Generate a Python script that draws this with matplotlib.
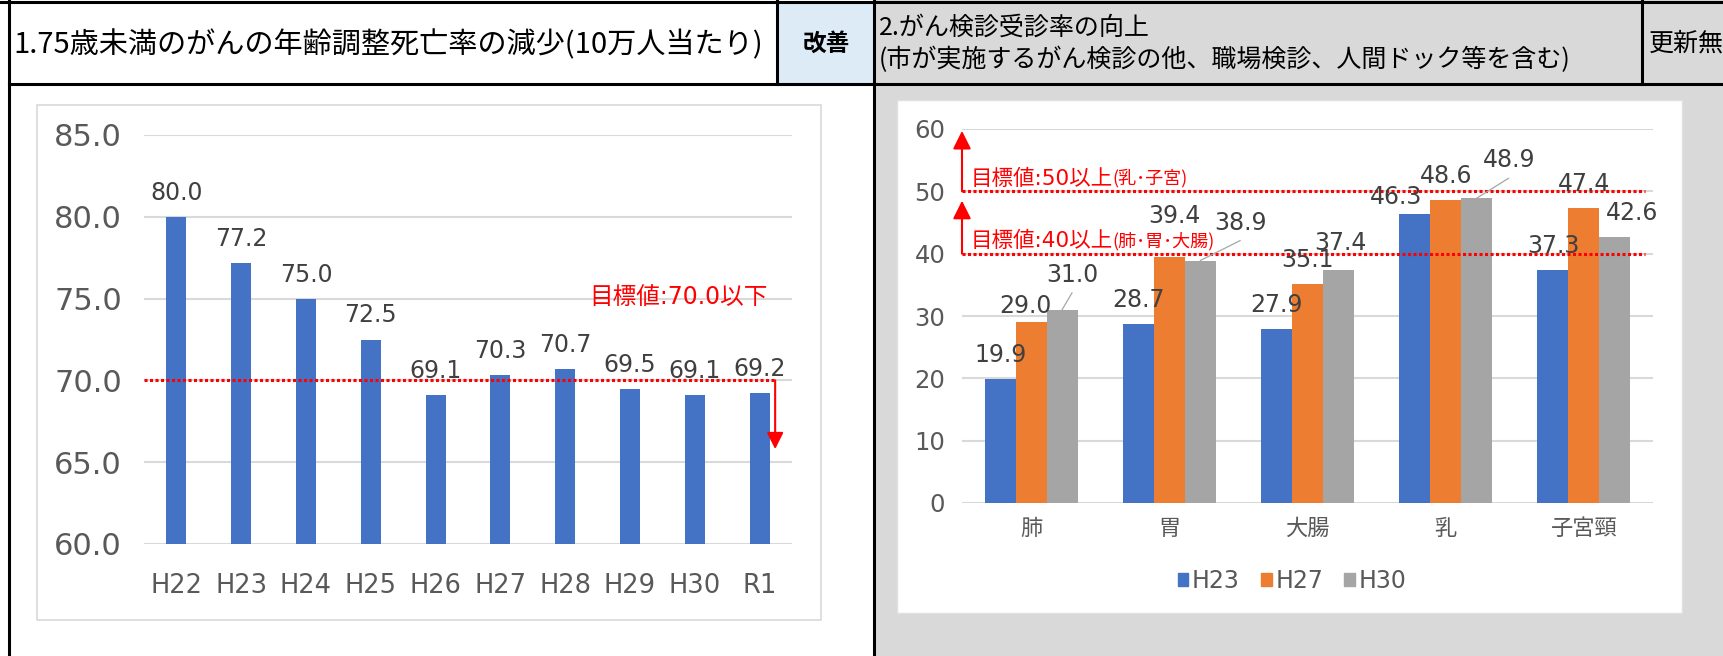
import matplotlib
matplotlib.use("Agg")
import matplotlib.pyplot as plt
from matplotlib.patches import Rectangle, Patch
import numpy as np

# Latin glyphs from DejaVu (Verdana-like, close to Meiryo), kanji from Noto CJK
plt.rcParams['font.family'] = ['DejaVu Sans', 'Noto Sans CJK JP']
JP = ['Noto Sans CJK JP', 'DejaVu Sans']

# --- data: 75歳未満のがんの年齢調整死亡率 ---
years = ["H22", "H23", "H24", "H25", "H26", "H27", "H28", "H29", "H30", "R1"]
death_rate = [80.0, 77.2, 75.0, 72.5, 69.1, 70.3, 70.7, 69.5, 69.1, 69.2]
death_target = 70.0

# --- data: がん検診受診率 ---
sites = ["肺", "胃", "大腸", "乳", "子宮頸"]
series_names = ["H23", "H27", "H30"]
rate_h23 = [19.9, 28.7, 27.9, 46.3, 37.3]
rate_h27 = [29.0, 39.4, 35.1, 48.6, 47.4]
rate_h30 = [31.0, 38.9, 37.4, 48.9, 42.6]
screen_targets = [50, 40]
target_labels = ["目標値:50以上", "目標値:40以上"]
target_notes = ["(乳･子宮)", "(肺･胃･大腸)"]

RED = "#FF0000"
TXT = "#595959"
LBL = "#404040"
colors = ["#4472C4", "#ED7D31", "#A5A5A5"]

W, H = 1724, 656
fig = plt.figure(figsize=(W / 100, H / 100), dpi=100)

# background "table" drawn in pixel coordinates
bg = fig.add_axes([0, 0, 1, 1])
bg.set_xlim(0, W)
bg.set_ylim(H, 0)
bg.axis("off")
bg.add_patch(Rectangle((778, 2), 96, 82, fc="#DDEBF7", ec="none"))
bg.add_patch(Rectangle((875, 0), W - 875, H, fc="#D9D9D9", ec="none"))
bg.add_patch(Rectangle((37, 105), 784, 515, fc="white", ec="#D9D9D9", lw=1.2))
bg.add_patch(Rectangle((897, 100), 785, 513, fc="white", ec="#E0E0E0", lw=1.0))
blw = 2.2
bg.plot([0, W], [1.5, 1.5], color="black", lw=blw)
bg.plot([9.5, 9.5], [0, H], color="black", lw=blw)
bg.plot([9.5, W], [83.5, 83.5], color="black", lw=blw)
bg.plot([777.5, 777.5], [0, 83.5], color="black", lw=blw)
bg.plot([874.5, 874.5], [0, H], color="black", lw=blw)
bg.plot([1642, 1642], [0, 83.5], color="black", lw=blw)

bg.text(13, 45, "1.75歳未満のがんの年齢調整死亡率の減少(10万人当たり)",
        fontsize=21, ha="left", va="center", color="black", family=JP)
bg.text(826, 44, "改善", fontsize=17, ha="center", va="center", fontweight="bold",
        family=JP)
bg.text(879, 28, "2.がん検診受診率の向上", fontsize=18, ha="left", va="center",
        family=JP)
bg.text(879, 60, "(市が実施するがん検診の他、職場検診、人間ドック等を含む)",
        fontsize=18, ha="left", va="center", family=JP)
bg.text(1649, 44, "更新無", fontsize=18, ha="left", va="center", family=JP)

# ---------------- left chart ----------------
axL = fig.add_axes([144 / W, (H - 544) / H, 648 / W, 409 / H])
axL.set_facecolor("none")
x = np.arange(len(years))
axL.bar(x, death_rate, width=0.31, color=colors[0], zorder=2)
axL.set_xlim(-0.5, len(years) - 0.5)
axL.set_ylim(60, 85)
axL.set_yticks(np.arange(60, 86, 5))
axL.set_yticklabels([f"{v:.1f}" for v in np.arange(60, 86, 5)])
axL.set_xticks(x)
axL.set_xticklabels(years)
axL.yaxis.grid(True, color="#D9D9D9", lw=1.5)
axL.set_axisbelow(True)
for s in axL.spines.values():
    s.set_visible(False)
axL.tick_params(axis="y", length=0, pad=16, labelsize=22, labelcolor=TXT)
axL.tick_params(axis="x", length=0, pad=21, labelsize=18.5, labelcolor=TXT)
for i, v in enumerate(death_rate):
    axL.annotate(f"{v:.1f}", (i, v), xytext=(0, 24), textcoords="offset pixels",
                 ha="center", va="center", fontsize=17, color=LBL, zorder=4)

axL.axhline(death_target, xmin=0, xmax=0.974, color=RED, lw=2.2,
            ls=(0, (1, 0.8)), zorder=3)
axL.annotate("", xy=(0.974, 65.8), xytext=(0.974, death_target),
             xycoords=axL.get_yaxis_transform(),
             arrowprops=dict(arrowstyle="-|>,head_length=1.0,head_width=0.5",
                             color=RED, lw=1.5, shrinkA=0, shrinkB=0))
axL.text(0.962, 75.1, "目標値:70.0以下", transform=axL.get_yaxis_transform(),
         ha="right", va="center", fontsize=17, color=RED)

# ---------------- right chart ----------------
axR = fig.add_axes([962 / W, (H - 503) / H, 691 / W, 374 / H])
axR.set_facecolor("none")
xs = np.arange(len(sites))
bw = 0.224
all_series = [rate_h23, rate_h27, rate_h30]
for k, vals in enumerate(all_series):
    axR.bar(xs + (k - 1) * bw, vals, bw, color=colors[k], zorder=2)
axR.set_xlim(-0.5, len(sites) - 0.5)
axR.set_ylim(0, 60)
axR.set_yticks(np.arange(0, 61, 10))
axR.set_xticks(xs)
axR.set_xticklabels(sites, family=JP)
axR.yaxis.grid(True, color="#D9D9D9", lw=1.5)
axR.set_axisbelow(True)
for s in axR.spines.values():
    s.set_visible(False)
axR.tick_params(axis="y", length=0, pad=12, labelsize=17.5, labelcolor=TXT)
axR.tick_params(axis="x", length=0, pad=10, labelsize=16, labelcolor=TXT)

# label offsets in pixels (dx, dy from bar top) -- mimic the manual placement
label_offsets = {
    (0, 3): (-19, 17),
    (1, 0): (-6, 16), (1, 1): (5, 41),
    (2, 0): (10, 35), (2, 1): (40, 38), (2, 2): (2, 27), (2, 3): (32, 38),
    (2, 4): (17, 24),
}
leaders = [(2, 0), (2, 1), (2, 3)]
for k, vals in enumerate(all_series):
    for i, v in enumerate(vals):
        bx = i + (k - 1) * bw
        dx, dy = label_offsets.get((k, i), (0, 24))
        axR.annotate(f"{v:.1f}", (bx, v), xytext=(dx, dy), textcoords="offset pixels",
                     ha="center", va="center", fontsize=17, color=LBL, zorder=5)
        if (k, i) in leaders:
            axR.annotate("", (bx, v), xytext=(dx, dy - 18), textcoords="offset pixels",
                         arrowprops=dict(arrowstyle="-", color="#A6A6A6", lw=0.9,
                                         shrinkA=0, shrinkB=0), zorder=5)

arrow_tops = [59.7, 48.5]
for t, lab, note, top in zip(screen_targets, target_labels, target_notes, arrow_tops):
    axR.axhline(t, xmin=0, xmax=0.988, color=RED, lw=2.2, ls=(0, (1, 0.8)), zorder=4)
    axR.annotate("", xy=(0, top), xytext=(0, t), xycoords=axR.get_yaxis_transform(),
                 arrowprops=dict(arrowstyle="-|>,head_length=1.1,head_width=0.55",
                                 color=RED, lw=1.5, shrinkA=0, shrinkB=0),
                 annotation_clip=False)
    t1 = axR.text(0.012, t + 2.0, lab, transform=axR.get_yaxis_transform(),
                  ha="left", va="center", fontsize=15.5, color=RED, zorder=6)
    axR.annotate(note, xy=(1, 0.05), xycoords=t1, ha="left", va="bottom",
                 fontsize=13, color=RED, zorder=6, family=JP)

handles = [Patch(color=c, label=n) for c, n in zip(colors, series_names)]
fig.legend(handles=handles, loc="center", bbox_to_anchor=(1292 / W, 1 - 581 / H),
           ncol=3, frameon=False, fontsize=17, labelcolor=TXT,
           handlelength=0.45, handleheight=0.45, handletextpad=0.15,
           columnspacing=0.9)

fig.savefig("out.png", dpi=100)
